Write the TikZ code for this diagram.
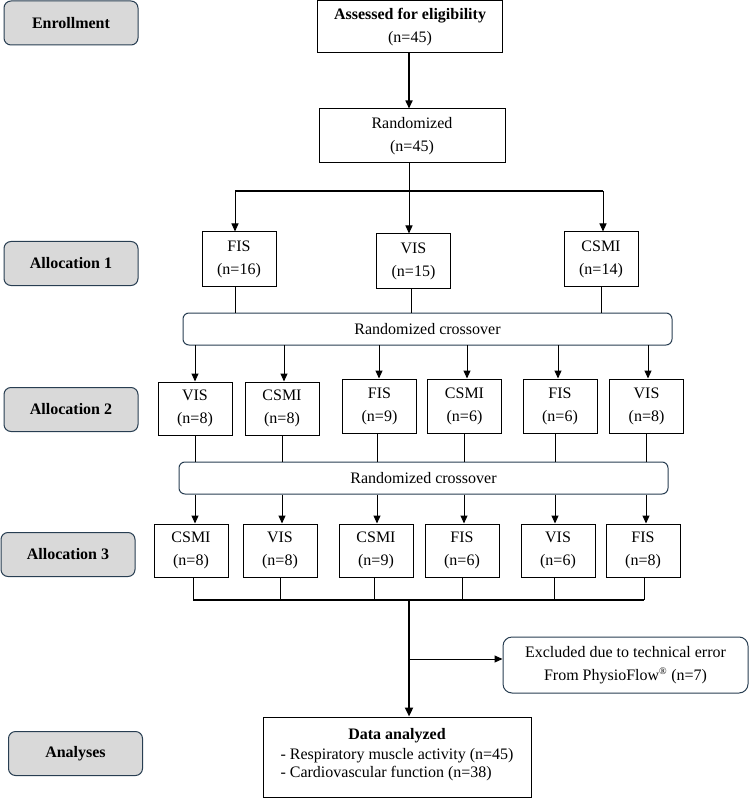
\documentclass[tikz,border=0pt]{standalone}
\usepackage{fontspec}
\setmainfont{Liberation Serif}
\usetikzlibrary{arrows.meta,calc}
\definecolor{sideedge}{RGB}{40,62,82}
\definecolor{sidefill}{RGB}{217,217,217}
\begin{document}
\begin{tikzpicture}[x=1pt,y=-1pt,
  every node/.style={font=\fontsize{16}{23}\selectfont, inner sep=0pt, align=center},
  box/.style={draw=black, line width=1pt, fill=white},
  sidebox/.style={draw=sideedge, fill=sidefill, line width=1pt, rounded corners=7pt,
     minimum width=134pt, minimum height=44pt, font=\fontsize{16}{20}\selectfont\bfseries},
  crossbox/.style={draw=sideedge, fill=white, line width=1pt, rounded corners=6pt,
     minimum width=489pt, minimum height=32pt},
  small/.style={box, minimum width=74pt, minimum height=54pt},
  ln/.style={line width=1pt, black},
  thick line/.style={line width=2.2pt, black},
  arr/.style={ln, -{Triangle[length=8pt,width=7pt]}},
  tarr/.style={thick line, -{Triangle[length=9pt,width=8pt]}}
]
\useasboundingbox (0,0) rectangle (749,799);

% side labels
\node[sidebox] (enr) at (71,23) {Enrollment};
\node[sidebox] (al1) at (71,263.5) {Allocation 1};
\node[sidebox] (al2) at (71,409.5) {Allocation 2};
\node[sidebox] (al3) at (68,554.5) {Allocation 3};
\node[sidebox] (ana) at (75.5,753.5) {Analyses};

% top boxes
\node[box, minimum width=185pt, minimum height=52pt] (assess) at (410,27)
  {\textbf{Assessed for eligibility}\\(n=45)};
\node[box, minimum width=186pt, minimum height=54pt] (rand) at (412,136)
  {Randomized\\(n=45)};
\draw[line width=1.6pt, -{Triangle[length=8pt,width=7pt]}] (409,53.5) coordinate (a0) -- (a0 |- rand.north);

% allocation 1
\node[small] (f1) at (239,259) {FIS\\(n=16)};
\node[small] (v1) at (413.5,261) {VIS\\(n=15)};
\node[small] (c1) at (601,259) {CSMI\\(n=14)};

\coordinate (s0) at (409,191);
\coordinate (s1) at (235,191);
\coordinate (s3) at (603,191);
\draw[ln] (409,163) -- (s0);
\draw[thick line] (s1) -- (s3);
\draw[arr] (s1) -- (s1 |- f1.north);
\draw[arr] (s0) -- (s0 |- v1.north);
\draw[arr] (s3) -- (s3 |- c1.north);

% crossover 1
\node[crossbox] (x1) at (427.5,329) {Randomized crossover};
\draw[ln] (235,286) coordinate (b1) -- (b1 |- x1.north);
\draw[ln] (411,288) coordinate (b2) -- (b2 |- x1.north);
\draw[ln] (601,286) coordinate (b3) -- (b3 |- x1.north);

% allocation 2
\node[small, minimum height=53pt] (p1) at (195,408.5) {VIS\\(n=8)};
\node[small, minimum height=53pt] (p2) at (282,408.5) {CSMI\\(n=8)};
\node[small] (p3) at (379.5,406) {FIS\\(n=9)};
\node[small] (p4) at (464.5,406) {CSMI\\(n=6)};
\node[small] (p5) at (560,406) {FIS\\(n=6)};
\node[small] (p6) at (646.5,406) {VIS\\(n=8)};

\foreach \xx/\nn in {195/p1,284/p2,379/p3,467/p4,558/p5,648/p6}{
  \draw[arr] (\xx,345) -- (\xx,0 |- \nn.north);
}

% crossover 2
\node[crossbox] (x2) at (423.5,478) {Randomized crossover};
\foreach \xx/\nn in {195/p1,282/p2,377/p3,464/p4,555/p5,646/p6}{
  \draw[ln] (\xx,0 |- \nn.south) -- (\xx,0 |- x2.north);
}

% allocation 3
\node[small, minimum height=53pt] (q1) at (191,550.5) {CSMI\\(n=8)};
\node[small, minimum height=53pt] (q2) at (280,550.5) {VIS\\(n=8)};
\node[small, minimum height=53pt] (q3) at (376,550.5) {CSMI\\(n=9)};
\node[small, minimum height=53pt] (q4) at (462,550.5) {FIS\\(n=6)};
\node[small, minimum height=53pt] (q5) at (558,550.5) {VIS\\(n=6)};
\node[small, minimum height=53pt] (q6) at (643,550.5) {FIS\\(n=8)};

\foreach \xx/\nn in {195/q1,282/q2,377/q3,464/q4,555/q5,646/q6}{
  \draw[arr] (\xx,0 |- x2.south) -- (\xx,0 |- \nn.north);
}

\coordinate (m0) at (409,600);
\foreach \xx/\nn in {193/q1,280/q2,374/q3,462/q4,554/q5,644/q6}{
  \draw[ln] (\xx,0 |- \nn.south) -- (\xx,600);
}
\draw[thick line] (193,600) -- (644,600);

% bottom
\node[draw=sideedge, fill=white, line width=1pt, rounded corners=9pt,
  minimum width=245pt, minimum height=56pt] (excl) at (625.5,665)
  {Excluded due to technical error\\From PhysioFlow\textsuperscript{\fontsize{10}{10}\selectfont®} (n=7)};
\node[box, minimum width=268pt, minimum height=80pt] (data) at (397,757)
  {\fontsize{16}{20}\selectfont
   \begin{tabular}{@{}l@{}}\multicolumn{1}{@{}c@{}}{\textbf{Data analyzed}}\\[0pt]
   - Respiratory muscle activity (n=45)\\[-2pt]
   - Cardiovascular function (n=38)\\[6pt]\end{tabular}};

\draw[tarr] (m0) -- (m0 |- data.north);
\draw[arr] (409,659) coordinate (br) -- (br -| excl.west);
\end{tikzpicture}
\end{document}
